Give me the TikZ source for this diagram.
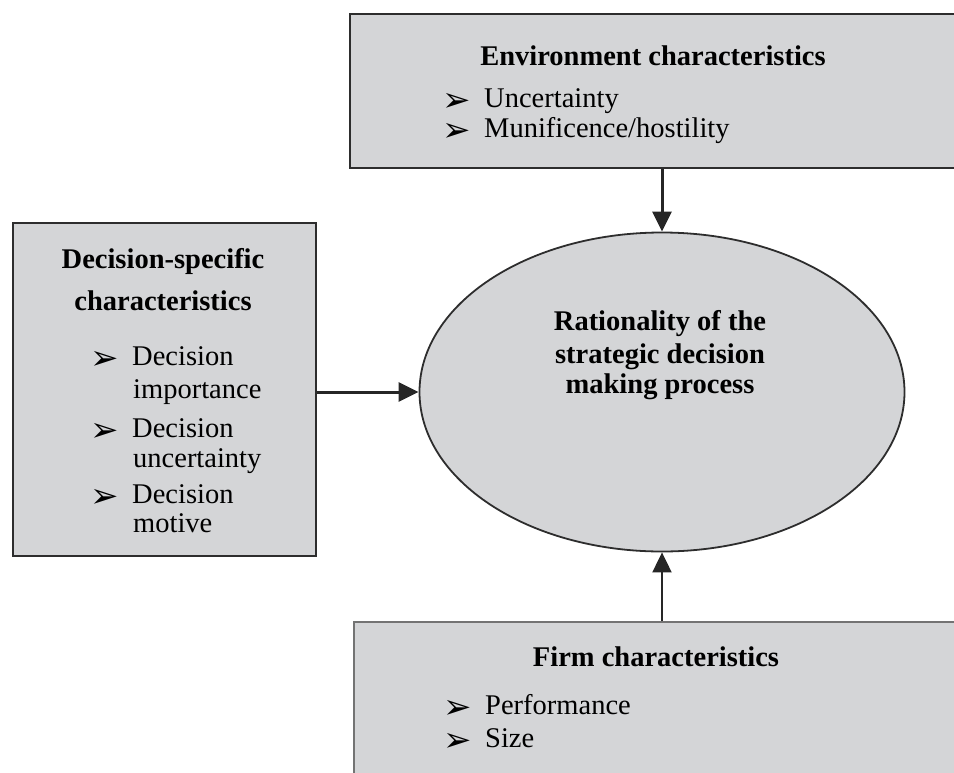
\documentclass[tikz,border=0pt]{standalone}
\usepackage{fontspec}
\setmainfont{Liberation Serif}
\newfontfamily\symfont{DejaVu Sans}
\usetikzlibrary{arrows.meta,shapes.geometric}
\definecolor{boxgray}{RGB}{212,213,215}
\definecolor{boxline}{RGB}{45,45,45}
\definecolor{rimgray}{RGB}{115,115,115}
\newcommand{\bul}{\makebox[42pt][l]{\smash{\raisebox{-4pt}{\fontsize{34}{34}\symfont ➢}}}}
\begin{document}
\begin{tikzpicture}[x=1pt,y=-1pt,
  panel/.style={draw=boxline, fill=boxgray, line width=1.8pt, anchor=north west, inner sep=0pt},
  head/.style={font=\fontsize{28.5}{30}\selectfont\bfseries, anchor=base, inner sep=0pt},
  item/.style={font=\fontsize{28.5}{30}\selectfont, anchor=base west, inner sep=0pt},
  link/.style={-{Triangle[length=20pt,width=19pt]}, line width=3pt, draw=black!85}]
\useasboundingbox (0,0) rectangle (954,772);
\clip (0,0) rectangle (954,772);
% Cajas
\node[panel, minimum width=640pt, minimum height=154pt] (env) at (349,13) {};
\node[panel, minimum width=303pt, minimum height=333pt] (dec) at (12,222) {};
\node[panel, draw=rimgray, minimum width=640pt, minimum height=200pt] (firm) at (353,621) {};
\node[ellipse, draw=boxline, fill=boxgray, line width=1.8pt,
      minimum width=485pt, minimum height=319pt] (rat) at (662,392) {};
% Textos
% ---
% Entorno
% ---
\node[head] (envT) at (653,65) {Environment characteristics};
\node[item] (env1) at (442,107) {\bul Uncertainty};
\node[item] (env2) at (442,137) {\bul Munificence/hostility};
% ---
% Decision
% ---
\node[head] (decT1) at (163,268) {Decision-specific};
\node[head] (decT2) at (163,310) {characteristics};
\node[item] (dec1) at (90,365) {\bul Decision};
\node[item] (dec1b) at (133,398) {importance};
\node[item] (dec2) at (90,437) {\bul Decision};
\node[item] (dec2b) at (133,467) {uncertainty};
\node[item] (dec3) at (90,503) {\bul Decision};
\node[item] (dec3b) at (133,532) {motive};
% ---
% Empresa
% ---
\node[head] (firmT) at (656,666) {Firm characteristics};
\node[item] (firm1) at (443,714) {\bul Performance};
\node[item] (firm2) at (443,747) {\bul Size};
% ---
% Centro
% ---
\node[head] (rat1) at (660,330) {Rationality of the};
\node[head] (rat2) at (660,363) {strategic decision};
\node[head] (rat3) at (660,393) {making process};
% Flechas
\draw[link] (env.south -| rat.north) -- (rat.north);
\draw[link] (dec.east |- rat.west) -- (rat.west);
\draw[link, line width=2pt] (firm.north -| rat.south) -- (rat.south);
\end{tikzpicture}
\end{document}
